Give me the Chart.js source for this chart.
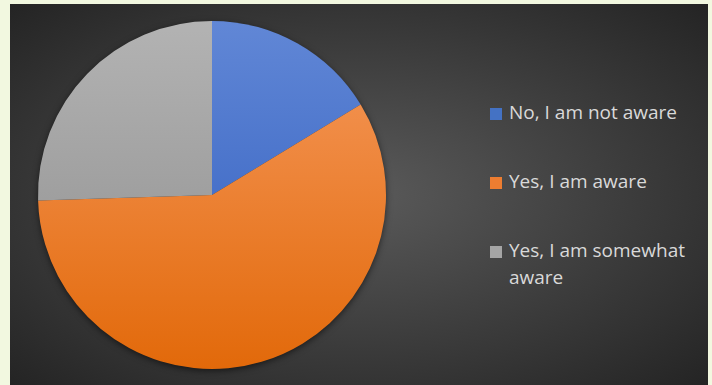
<!DOCTYPE html>
<html>
<head>
<meta charset="utf-8">
<script src="https://cdn.jsdelivr.net/npm/chart.js@4.4.1/dist/chart.umd.min.js"></script>
<style>
  html, body { margin: 0; padding: 0; }
  body { width: 712px; height: 385px; background: #f2f8e0; position: relative; overflow: hidden; }
  #panel {
    position: absolute; left: 10px; top: 4px; width: 698px; height: 381px;
    background: radial-gradient(ellipse farthest-corner at 50% 50%, #5a5a5a 0%, #3c3c3c 55%, #242424 100%);
  }
  #pieBox { position: absolute; left: 18px; top: 0; width: 388px; height: 381px; }
  #legend {
    position: absolute; left: 480px; top: 95px; width: 215px;
    font-family: "Open Sans", sans-serif; font-size: 19px; line-height: 27px; color: #d9d9d9;
  }
  .item { position: relative; padding-left: 19px; }
  .item + .item { margin-top: 42px; }
  .item:last-child { margin-top: 42px; }
  .box { position: absolute; left: 0; top: 9px; width: 12px; height: 12px; }
</style>
</head>
<body>
<div id="panel">
  <div id="pieBox"><canvas id="grafico"></canvas></div>
  <div id="legend"></div>
</div>
<script>
const categorias = ['No, I am not aware', 'Yes, I am aware', 'Yes, I am somewhat aware']
const porcentajes = [16.3, 58.2, 25.5]
const colores = ['#4472c4', '#ed7d31', '#a5a5a5']
// top / bottom tone for each slice
const tonosArriba = ['#6187d6', '#f69a5e', '#b3b3b3']
const tonosAbajo = ['#2d5bbd', '#e2690a', '#8c8c8c']

const rellenoSlice = (ctx) => {
    const chart = ctx.chart
    const area = chart.chartArea
    if (!area) return colores[ctx.dataIndex]
    const g = chart.ctx.createLinearGradient(0, area.top, 0, area.bottom)
    g.addColorStop(0, tonosArriba[ctx.dataIndex])
    g.addColorStop(1, tonosAbajo[ctx.dataIndex])
    return g
}

// soft shadow under the whole pie
const sombraPie = {
    id: 'sombraPie',
    beforeDatasetsDraw(chart) {
        const arc = chart.getDatasetMeta(0).data[0]
        if (!arc) return
        const c = chart.ctx
        c.save()
        c.shadowColor = 'rgba(0,0,0,0.6)'
        c.shadowBlur = 7
        c.shadowOffsetY = 2
        c.fillStyle = '#333'
        c.beginPath()
        c.arc(arc.x, arc.y, arc.outerRadius - 0.5, 0, Math.PI * 2)
        c.fill()
        c.restore()
    }
}

new Chart('grafico', {
    type: 'pie',
    data: {
        labels: categorias,
        datasets: [{
            data: porcentajes,
            backgroundColor: rellenoSlice,
            borderWidth: 0
        }]
    },
    options: {
        responsive: true,
        maintainAspectRatio: false,
        animation: false,
        layout: { padding: { left: 10, top: 17, right: 30, bottom: 16 } },
        plugins: {
            legend: { display: false },
            tooltip: { enabled: false }
        }
    },
    plugins: [sombraPie]
})

const leyenda = document.getElementById('legend')
categorias.forEach((nombre, i) => {
    const fila = document.createElement('div')
    fila.className = 'item'
    fila.innerHTML = `<span class="box" style="background:${colores[i]}"></span>${nombre}`
    leyenda.appendChild(fila)
})
</script>
</body>
</html>
